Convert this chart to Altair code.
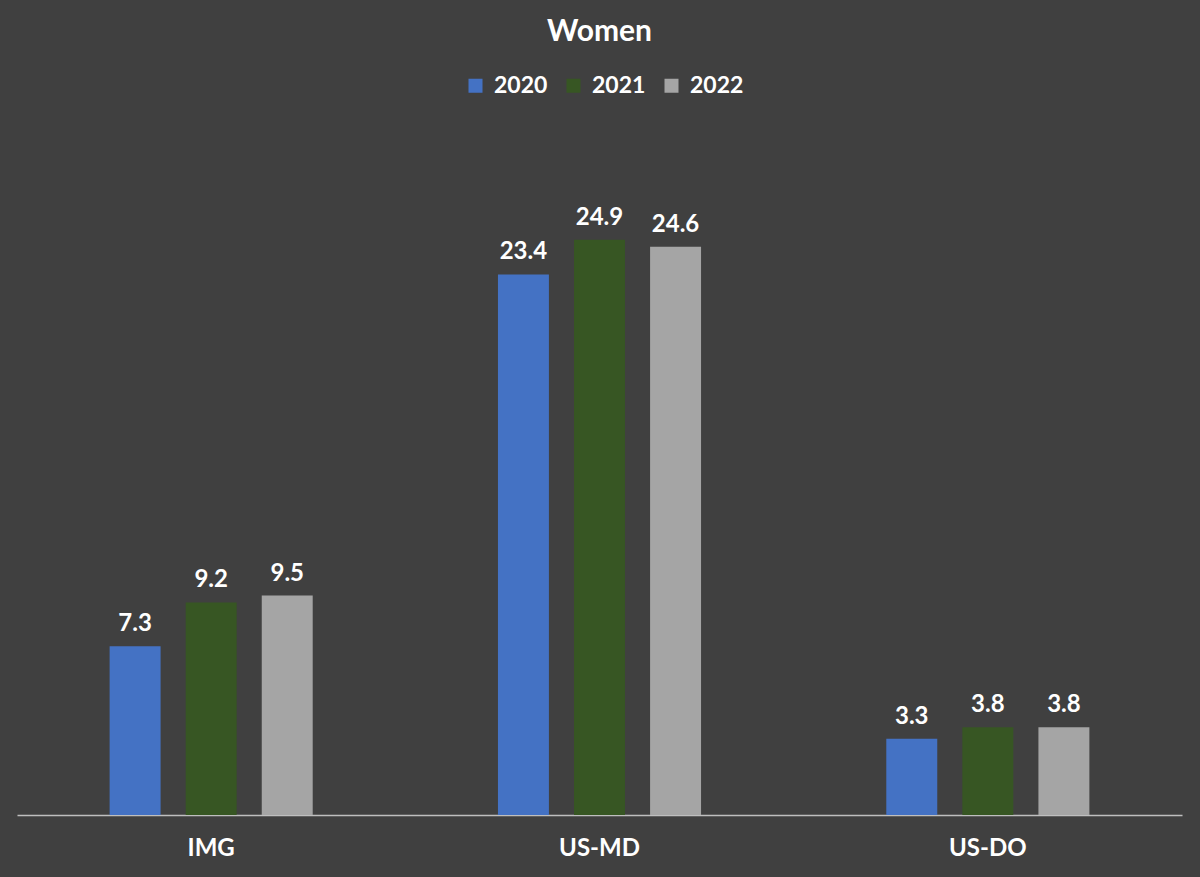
import altair as alt
import pandas as pd

categories = ["IMG", "US-MD", "US-DO"]
years = ["2020", "2021", "2022"]
v2020 = [7.3, 23.4, 3.3]
v2021 = [9.2, 24.9, 3.8]
v2022 = [9.5, 24.6, 3.8]
colors = ["#4472C4", "#375623", "#A5A5A5"]

rows = []
for yr, vals in zip(years, [v2020, v2021, v2022]):
    for c, v in zip(categories, vals):
        rows.append({"group": c, "year": yr, "value": v})
df = pd.DataFrame(rows)

FONT = "Lato"

x = alt.X("group:N", sort=categories, title=None,
          scale=alt.Scale(paddingInner=0.477, paddingOuter=0.2385),
          axis=alt.Axis(labelAngle=0, labelColor="white", labelFont=FONT,
                        labelFontWeight="bold", labelFontSize=24, labelPadding=21,
                        ticks=False, domainColor="#BFBFBF", domainWidth=1.5,
                        grid=False))
xo = alt.XOffset("year:N", sort=years,
                 scale=alt.Scale(paddingInner=0.33, paddingOuter=0))
y = alt.Y("value:Q", scale=alt.Scale(domain=[0, 30], nice=False), axis=None)

base = alt.Chart(df).encode(x=x, xOffset=xo, y=y)

bars = base.mark_bar().encode(
    color=alt.Color("year:N", sort=years,
                    scale=alt.Scale(domain=years, range=colors),
                    legend=alt.Legend(title=None, orient="none", direction="horizontal",
                                      legendX=447, legendY=-48,
                                      symbolType="square", symbolSize=196,
                                      symbolStrokeWidth=0,
                                      labelColor="white", labelFont=FONT,
                                      labelFontWeight="bold", labelFontSize=23,
                                      labelOffset=7, columnPadding=14))
)

labels = base.mark_text(baseline="alphabetic", dy=-15, color="white", font=FONT,
                        fontWeight="bold", fontSize=24).encode(
    text=alt.Text("value:Q", format=".1f")
)

chart = (bars + labels).properties(
    width=1165, height=693,
    autosize=alt.AutoSizeParams(type="none"),
    padding={"left": 17, "top": 122, "right": 18, "bottom": 62},
    background="#404040",
    title=alt.TitleParams("Women", color="white", font=FONT, fontWeight="bold",
                          fontSize=30, anchor="middle", baseline="alphabetic",
                          offset=3, frame="group"),
).configure_view(stroke=None)

chart.save("out.html", embed_options={"renderer": "svg", "actions": False})
